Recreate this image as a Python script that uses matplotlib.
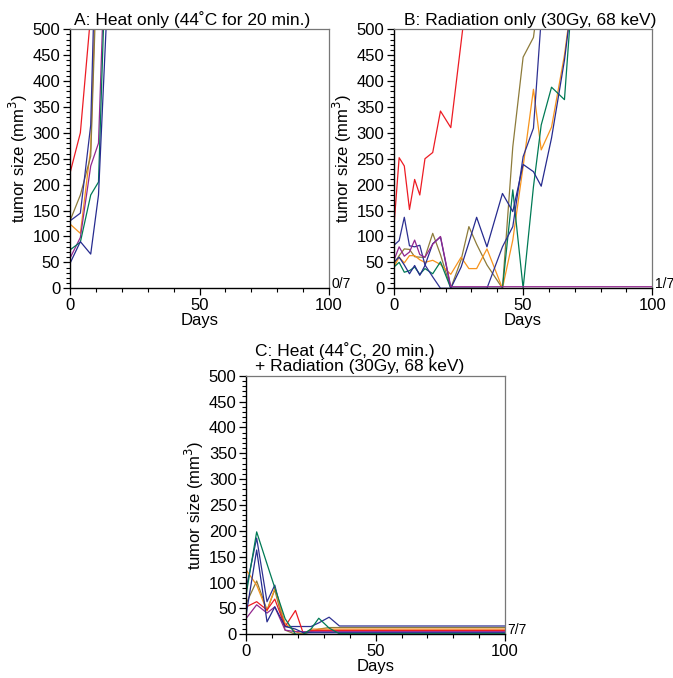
import matplotlib.pyplot as plt
import numpy as np
from matplotlib.ticker import MultipleLocator

plt.rcParams['font.family'] = ['Liberation Sans', 'DejaVu Sans']

# colour for each mouse
colors = {'red': '#ED1C24', 'orange': '#F7941D', 'olive': '#8D7B3A', 'green': '#007A55',
          'navy': '#2E3192', 'blue': '#262B8F', 'purple': '#92278F'}

# A: heat only
days_a = [0, 4, 8, 11, 14]
heat_only = {
    'red':    [222, 300, 529, np.nan, np.nan],
    'orange': [124, 106, 270, 763, np.nan],
    'olive':  [130, 180, 255, 714, np.nan],
    'navy':   [130, 145, 315, 870, np.nan],
    'purple': [58, 98, 236, 280, 720],
    'green':  [74, 89, 180, 205, 670],
    'blue':   [48, 90, 66, 180, 510],
}

# B: radiation only
days_b = [0, 2, 4, 6, 8, 10, 12, 15, 18, 22, 26, 29, 32, 36, 42, 46, 50, 54, 57, 61, 66, 70, 100]
nan = np.nan
radiation_only = {
    'red':    [120, 252, 236, 152, 210, 180, 250, 262, 342, 310, 475, 599] + [nan] * 11,
    'olive':  [47, 63, 76, 75, 61, 60, 60, 106, 65, 0, 55, 119, 85, 45, 0, 273, 446, 484, 600] + [nan] * 4,
    'orange': [41, 60, 49, 63, 63, 55, 50, 54, 46, 27, 60, 38, 38, 76, 0, 93, 235, 384, 267, 311, 450, 600, nan],
    'green':  [41, 50, 31, 34, 41, 27, 38, 28, 51, 0, 0, 0, 0, 0, 0, 190, 0, 196, 315, 388, 364, 640, nan],
    'navy':   [83, 92, 137, 82, 80, 83, 45, 22, 0, 0, 0, 0, 0, 0, 80, 119, 254, 309, 520] + [nan] * 4,
    'blue':   [51, 60, 45, 28, 44, 25, 44, 86, 99, 0, 41, 88, 137, 80, 183, 148, 239, 225, 197, 290, 440, 600, nan],
    'purple': [54, 80, 62, 70, 93, 65, 60, 85, 100, 3, 3, 3, 3, 3, 3, 3, 3, 3, 3, 3, 3, 3, 3],
}

# C: heat + radiation
days_c = [0, 4, 8, 11, 15, 19, 22, 25, 28, 32, 36, 40, 100]
combined = {
    'navy':   [90, 186, 63, 95, 15, 15, 15, 15, 22, 33, 16, 16, 16],
    'olive':  [60, 103, 47, 86, 8, 0, 0, 5, 10, 13, 13, 13, 13],
    'orange': [124, 95, 45, 89, 21, 5, 0, 10, 10, 10, 10, 10, 10],
    'red':    [53, 63, 47, 68, 15, 46, 2, 7.5, 7.5, 7.5, 7.5, 7.5, 7.5],
    'purple': [31, 57, 41, 53, 8, 5, 5, 5, 5, 5, 5, 5, 5],
    'blue':   [40, 163, 24, 53, 15, 10, 3, 3, 3, 3, 3, 3, 3],
    'green':  [79, 198, 136, 90, 30, 0, 0, 10, 31, 12, 1, 1, 1],
}

panels = [
    ('A: Heat only (44˚C for 20 min.)', days_a, heat_only, '0/7'),
    ('B: Radiation only (30Gy, 68 keV)', days_b, radiation_only, '1/7'),
    ('C: Heat (44˚C, 20 min.)\n+ Radiation (30Gy, 68 keV)', days_c, combined, '7/7'),
]
boxes = [
    [0.104, 0.5748, 0.385, 0.3822],
    [0.5854, 0.5748, 0.3838, 0.3822],
    [0.366, 0.0645, 0.3844, 0.3814],
]
title_x = [0.015, 0.04, 0.034]

fig = plt.figure(figsize=(6.73, 6.78), dpi=100)

for (title, days, mice, cured), box, tx in zip(panels, boxes, title_x):
    ax = fig.add_axes(box)
    for name, vals in mice.items():
        ax.plot(days, vals, color=colors[name], lw=0.9)
    ax.set_xlim(0, 100)
    ax.set_ylim(0, 500)
    ax.xaxis.set_major_locator(MultipleLocator(50))
    ax.xaxis.set_minor_locator(MultipleLocator(10))
    ax.yaxis.set_major_locator(MultipleLocator(50))
    ax.yaxis.set_minor_locator(MultipleLocator(10))
    ax.tick_params(which='major', length=5, width=0.9, labelsize=12, pad=2)
    ax.tick_params(which='minor', length=3, width=0.8)
    for side in ['top', 'right']:
        ax.spines[side].set_color('#777777')
        ax.spines[side].set_linewidth(0.9)
    for side in ['left', 'bottom']:
        ax.spines[side].set_linewidth(1.0)
    ax.set_xlabel('Days', fontsize=12, labelpad=0)
    ax.set_ylabel('tumor size (mm$^3$)', fontsize=12, labelpad=2)
    ax.text(tx, 1.006, title, transform=ax.transAxes, ha='left', va='bottom',
            fontsize=12.5, linespacing=1.0)
    ax.text(1.01, 0.015, cured, transform=ax.transAxes, ha='left', va='center',
            fontsize=10)

fig.savefig('out.png', dpi=100)
